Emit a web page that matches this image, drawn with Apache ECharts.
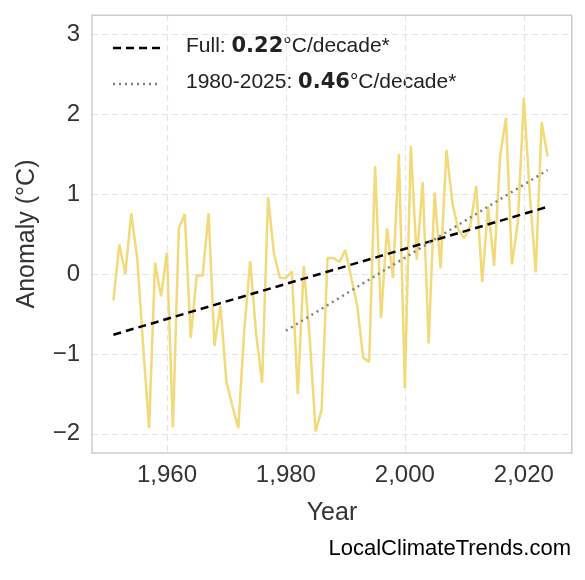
<!DOCTYPE html>
<html><head><meta charset="utf-8">
<script src="https://cdn.jsdelivr.net/npm/echarts@6/dist/echarts.min.js"></script>
<style>body{margin:0;background:#fff}#c{width:585px;height:580px}</style>
</head><body><div id="c"></div>
<script>
var years = [];
for (var y = 1951; y <= 2024; y++) years.push(y);
var anomaly = [-0.33,0.37,0.0,0.76,0.2,-0.9,-1.93,0.14,-0.28,0.27,
  -1.92,0.57,0.75,-0.8,-0.02,-0.02,0.76,-0.9,-0.4,-1.35,
  -1.65,-1.93,-0.7,0.16,-0.75,-1.36,0.96,0.25,-0.05,-0.05,
  0.03,-1.5,0.1,-0.8,-1.97,-1.7,0.2,0.2,0.15,0.3,
  -0.05,-0.4,-1.05,-1.1,1.35,-0.55,0.57,-0.05,1.5,-1.43,
  1.6,0.18,1.15,-0.87,1.02,0.07,1.55,0.88,0.55,0.45,
  0.6,1.1,-0.1,0.85,0.1,1.47,1.95,0.12,0.65,2.2,
  1.0,0.02,1.9,1.47];
var trendFull = [[1951,-0.76],[2024,0.84]];
var trendRecent = [[1980,-0.71],[2024,1.3]];
var xTicks = [1960,1980,2000,2020];
var yTicks = [-2,-1,0,1,2,3];

var font = '"Liberation Sans", Arial, sans-serif';
var grid = {color: '#e4e4e4', type: [6,4], width: 1.2};
var chart = echarts.init(document.getElementById('c'));
chart.setOption({
  animation: false,
  grid: {left: 92, right: 13, top: 15, bottom: 127},
  xAxis: {
    type: 'value', min: 1947.4, max: 2028.1,
    axisLine: {show: true, onZero: false, lineStyle: {color: '#ccc', width: 1.5}},
    axisTick: {show: false, customValues: xTicks},
    axisLabel: {color: '#333', fontSize: 24, fontFamily: font, margin: 10, customValues: xTicks},
    splitLine: {show: true, lineStyle: grid},
    name: 'Year', nameLocation: 'middle', nameGap: 48,
    nameTextStyle: {color: '#333', fontSize: 25, fontFamily: font}
  },
  yAxis: {
    type: 'value', min: -2.24, max: 3.24,
    axisLine: {show: true, onZero: false, lineStyle: {color: '#ccc', width: 1.5}},
    axisTick: {show: false, customValues: yTicks},
    axisLabel: {color: '#333', fontSize: 24, fontFamily: font, margin: 12,
      customValues: yTicks,
      formatter: function(v){ return v < 0 ? '\u2212' + Math.abs(v) : v; }},
    splitLine: {show: true, lineStyle: grid},
    name: 'Anomaly (°C)', nameLocation: 'middle', nameGap: 52,
    nameTextStyle: {color: '#333', fontSize: 25, fontFamily: font}
  },
  series: [
    {type: 'line', data: years.map(function(y,i){return [y, anomaly[i]];}),
     showSymbol: false, lineStyle: {color: '#f2d97a', width: 2.5}},
    {type: 'line', data: trendFull, showSymbol: false,
     lineStyle: {color: '#000', width: 2.5, type: [8,5]}},
    {type: 'line', data: trendRecent, showSymbol: false,
     lineStyle: {color: '#808080', width: 2.5, type: [2,4]}}
  ],
  graphic: [
    {type: 'rect', shape: {x: 92, y: 14.5, width: 480, height: 1.5}, style: {fill: '#ccc'}, z: 10},
    {type: 'rect', shape: {x: 571, y: 15, width: 1.5, height: 438}, style: {fill: '#ccc'}, z: 10},
    {type: 'line', shape: {x1: 113, y1: 48, x2: 160, y2: 48}, style: {stroke: '#000', lineWidth: 2.5, lineDash: [8,5]}},
    {type: 'line', shape: {x1: 113, y1: 84, x2: 160, y2: 84}, style: {stroke: '#808080', lineWidth: 2.5, lineDash: [2,4]}},
    {type: 'text', left: 186, top: 36, style: {
      text: '{n|Full: }{b|0.22}{n|°C/decade*}',
      rich: {n: {fontSize: 21, fontFamily: font, fill: '#222'},
             b: {fontSize: 21, fontFamily: 'DejaVu Sans', fontWeight: 'bold', fill: '#222'}}}},
    {type: 'text', left: 186, top: 72, style: {
      text: '{n|1980-2025: }{b|0.46}{n|°C/decade*}',
      rich: {n: {fontSize: 21, fontFamily: font, fill: '#222'},
             b: {fontSize: 21, fontFamily: 'DejaVu Sans', fontWeight: 'bold', fill: '#222'}}}},
    {type: 'text', right: 14, top: 538, style: {
      text: 'LocalClimateTrends.com', fontSize: 22, fontFamily: font, fill: '#000'}}
  ]
});
</script></body></html>
